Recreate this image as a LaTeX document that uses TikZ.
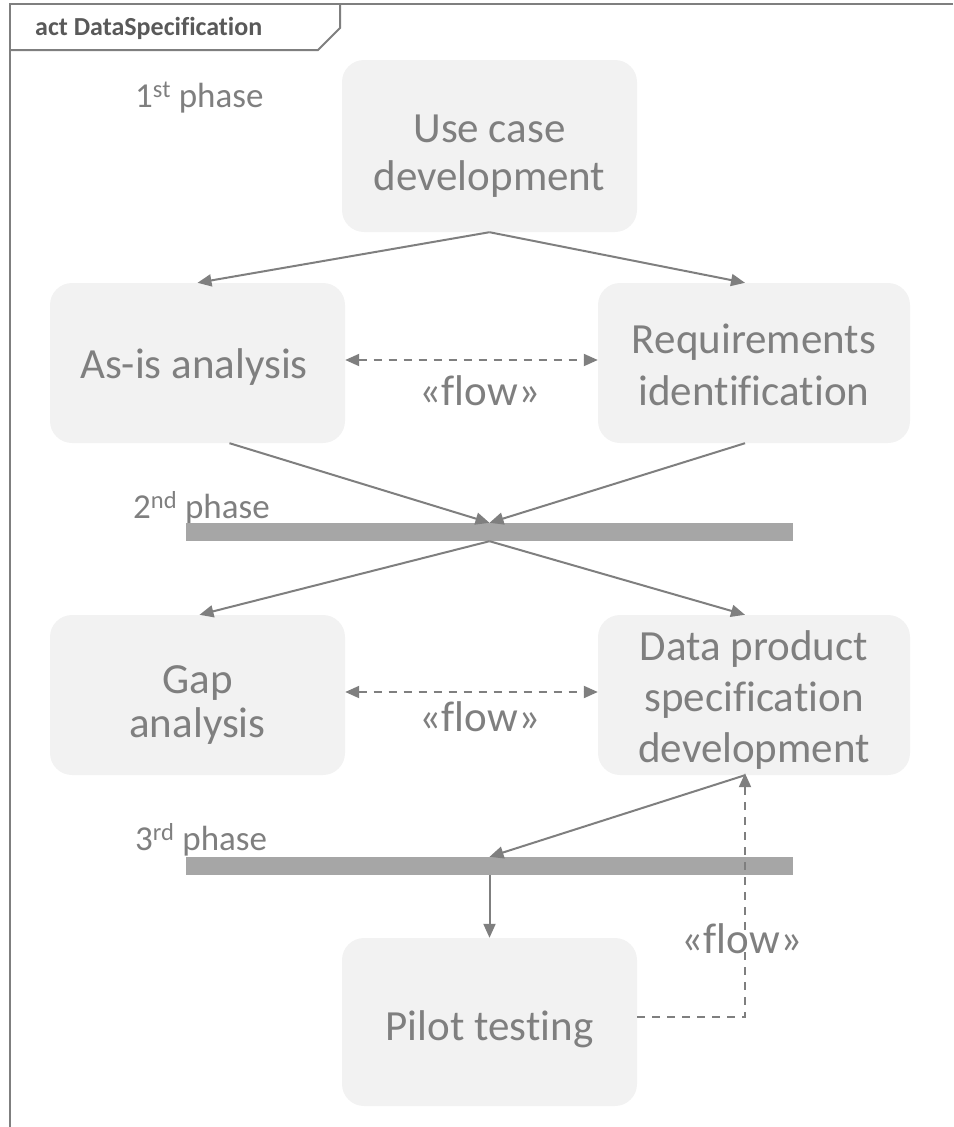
\documentclass[tikz,border=0pt]{standalone}
\usepackage{fontspec}
\setmainfont{Carlito}[Ligatures={NoCommon}]
\usetikzlibrary{arrows.meta}
\definecolor{UMLGray}{RGB}{127,127,127}
\definecolor{UMLDark}{RGB}{89,89,89}
\definecolor{UMLFill}{RGB}{242,242,242}
\definecolor{UMLBar}{RGB}{166,166,166}

\begin{document}
\begin{tikzpicture}[x=1pt, y=-1pt,
          actbox/.style={rectangle, rounded corners=22pt, fill=UMLFill,
                         minimum width=295pt, minimum height=160pt},
          boxtxt/.style={anchor=base, text=UMLGray, align=center, inner sep=0pt,
                         font=\fontsize{43}{#1}\selectfont},
          boxtxt/.default=50,
          forkbar/.style={rectangle, fill=UMLBar, inner sep=0pt,
                          minimum width=607pt, minimum height=18pt},
          phase/.style={anchor=base west, text=UMLGray, inner sep=0pt,
                        font=\fontsize{35}{40}\selectfont},
          flowlbl/.style={anchor=base, text=UMLGray, inner sep=0pt,
                          font=\fontsize{43}{48}\selectfont},
          arr/.style={-{Triangle[length=14pt, width=12pt]}, draw=UMLGray, line width=2pt},
          flowline/.style={draw=UMLGray, line width=2pt, dash pattern=on 8pt off 7pt},
          flowarr/.style={flowline, {Triangle[length=14pt, width=12pt]}-{Triangle[length=14pt, width=12pt]}},
          flowone/.style={flowline, -{Triangle[length=14pt, width=12pt]}}
        ]
        \useasboundingbox (0,0) rectangle (953,1127);

        % frame
        \draw[UMLGray, line width=2pt] (10,1127) -- (10,4) -- (953,4);
        \draw[UMLGray, line width=2pt] (10,50) -- (318,50) -- (340,28) -- (340,4);
        \node[anchor=base west, inner sep=0pt, text=UMLDark,
              font=\bfseries\fontsize{26}{30}\selectfont]
              (title) at (35,35) {act DataSpecification};

        % phase labels
        \node[phase] (ph1) at (135,107) {1\textsuperscript{st} phase};
        \node[phase] (ph2) at (133,518) {2\textsuperscript{nd} phase};
        \node[phase] (ph3) at (135,850) {3\textsuperscript{rd} phase};

        % actions
        \node[actbox, minimum height=172pt] (usecase) at (489.5,146) {};
        \node[actbox] (asis) at (197.5,363) {};
        \node[actbox, minimum width=312pt] (req) at (754,363) {};
        \node[actbox] (gap) at (197.5,695) {};
        \node[actbox, minimum width=312pt] (dps) at (754,695) {};
        \node[actbox, minimum height=168pt] (pilot) at (489.5,1022) {};

        % action texts (anchored on the last baseline)
        \node[boxtxt=48] (usecaseT) at (489.5,190) {Use case\\development};
        \node[boxtxt] (asisT) at (194,378) {As-is analysis};
        \node[boxtxt=52] (reqT) at (754,405) {Requirements\\identification};
        \node[boxtxt=44] (gapT) at (197.5,737) {Gap\\analysis};
        \node[boxtxt=51] (dpsT) at (754,762) {Data product\\specification\\development};
        \node[boxtxt] (pilotT) at (489.5,1040) {Pilot testing};

        % fork / join bars
        \node[forkbar] (bar1) at (489.5,532) {};
        \node[forkbar] (bar2) at (489.5,866) {};

        % control flows
        \draw[arr] (usecase.south) -- (asis.north);
        \draw[arr] (usecase.south) -- ([xshift=-9pt]req.north);
        \draw[arr] ([xshift=32pt]asis.south) -- (bar1.north);
        \draw[arr] ([xshift=-9pt]req.south) -- (bar1.north);
        \draw[arr] (bar1.south) -- ([xshift=2pt]gap.north);
        \draw[arr] (bar1.south) -- ([xshift=-9pt]dps.north);
        \draw[arr] ([xshift=-9pt]dps.south) -- (bar2.north);
        \draw[arr] (bar2.south) -- (pilot.north);

        % object flows
        \draw[flowarr] ([yshift=3pt]asis.east) -- ([yshift=3pt]req.west);
        \node[flowlbl] (flow1) at (480,405) {«flow»};
        \draw[flowarr] ([yshift=3pt]gap.east) -- ([yshift=3pt]dps.west);
        \node[flowlbl] (flow2) at (480,731) {«flow»};
        \draw[flowone] ([yshift=5pt]pilot.east) -| ([xshift=-9pt, yshift=2pt]dps.south);
        \node[flowlbl] (flow3) at (742,953) {«flow»};
      \end{tikzpicture}
\end{document}
